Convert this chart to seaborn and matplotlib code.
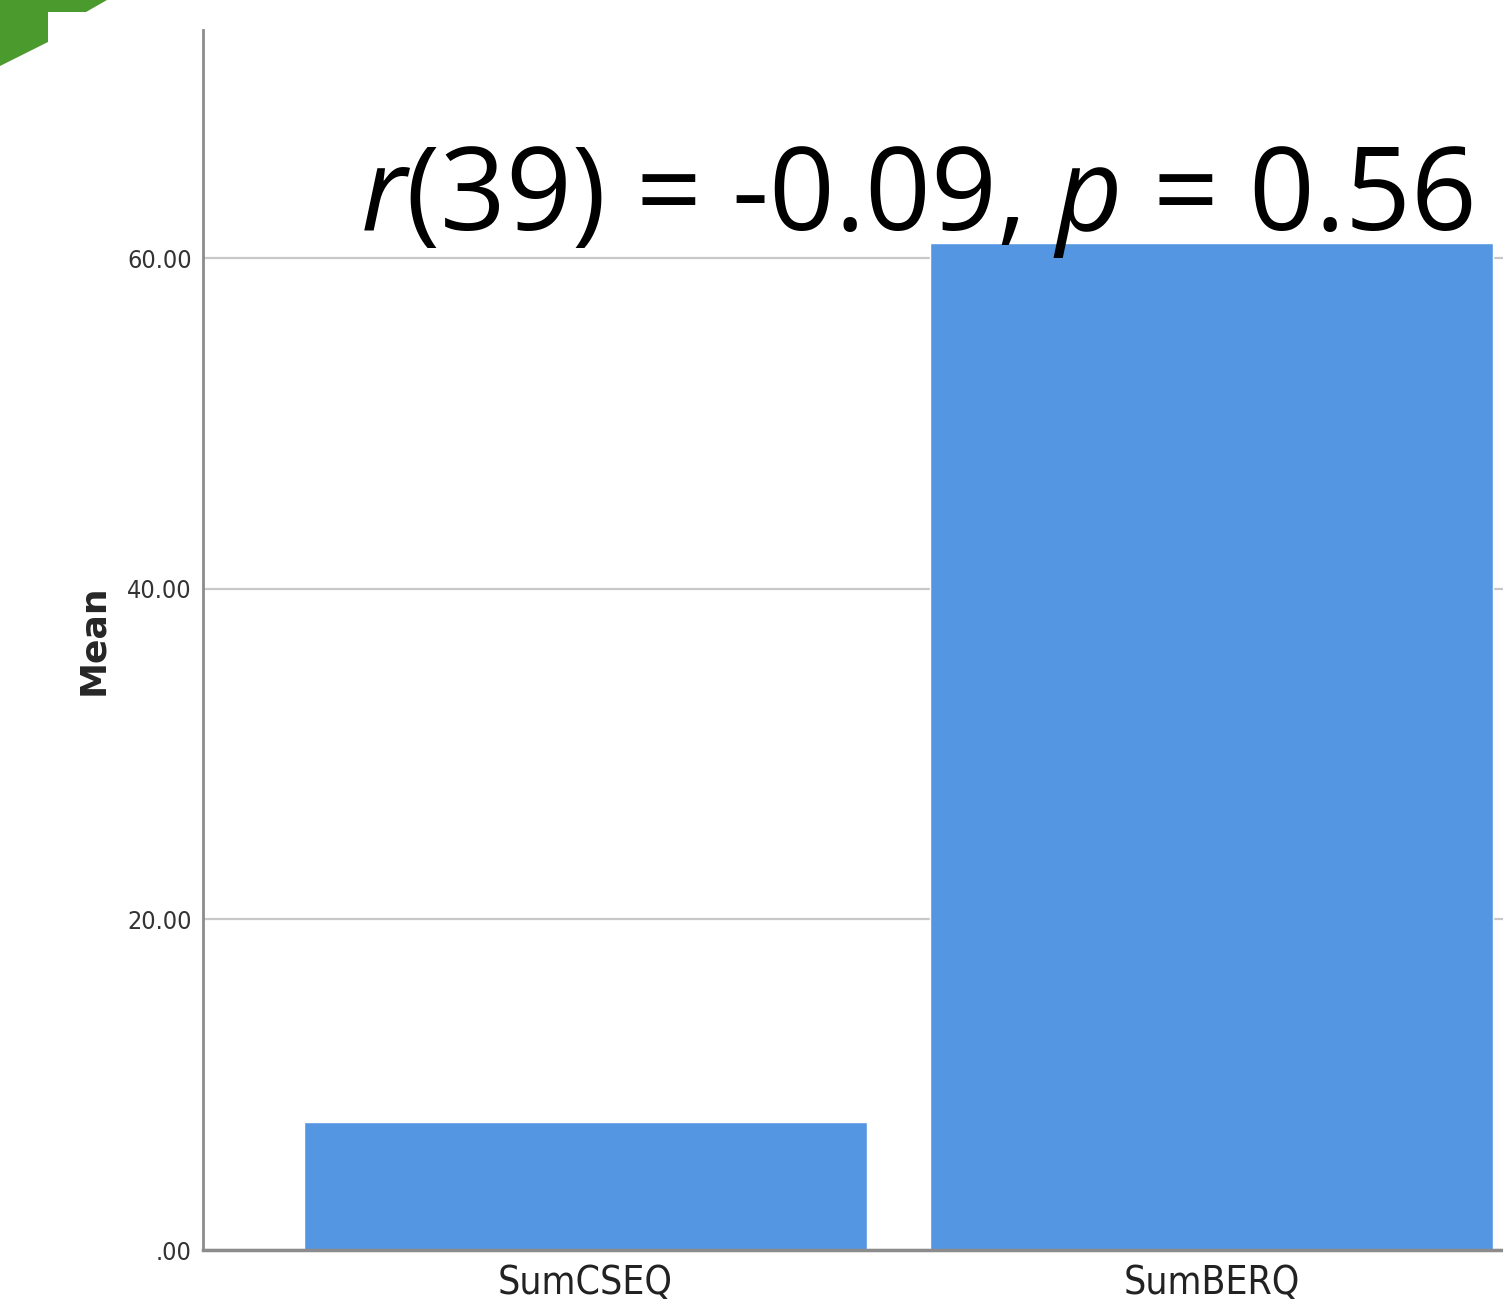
import matplotlib
matplotlib.use("Agg")
import matplotlib.pyplot as plt
import seaborn as sns
from matplotlib.patches import Polygon

categories = ["SumCSEQ", "SumBERQ"]
means = [7.75, 60.9]
yticks = [0, 20, 40, 60]
ytick_labels = [".00", "20.00", "40.00", "60.00"]
stat_text = r"$\it{r}$(39) = -0.09, $\it{p}$ = 0.56"

sns.set_theme(style="white")
plt.rcParams["font.family"] = ["DejaVu Sans"]
plt.rcParams["mathtext.fontset"] = "custom"
plt.rcParams["mathtext.it"] = "Open Sans:italic"
plt.rcParams["mathtext.rm"] = "Open Sans"

W, H = 1503, 1306
fig = plt.figure(figsize=(W / 100, H / 100), dpi=100)
ax = fig.add_axes([203 / W, 1 - 1250 / H, 1 - 203 / W, (1250 - 30) / H])

sns.barplot(x=categories, y=means, color="#5596e3", saturation=1, width=0.9, ax=ax, zorder=2)

ax.set_xlim(-0.611, 1.466)
ax.set_ylim(0, 73.8)
ax.set_yticks(yticks)
ax.set_yticklabels(ytick_labels, fontsize=18, color="#333333", fontstretch="condensed")
ax.set_xticks(range(len(categories)))
ax.set_xticklabels(categories, fontsize=28, color="#222222", fontstretch="condensed")
ax.tick_params(axis="x", pad=10, length=0)
ax.tick_params(axis="y", length=0, pad=8)
ax.yaxis.grid(True, color="#c8c8c8", linewidth=1.6, zorder=0)
ax.set_axisbelow(True)
for s in ["top", "right"]:
    ax.spines[s].set_visible(False)
ax.spines["left"].set_color("#8c8c8c")
ax.spines["left"].set_linewidth(2)
ax.spines["bottom"].set_color("#8c8c8c")
ax.spines["bottom"].set_linewidth(2.5)
ax.set_xlabel("")
ax.set_ylabel("Mean", fontsize=26, fontweight="bold", labelpad=12)

fig.text(1473 / W, 1 - 230 / H, stat_text, ha="right", va="baseline",
         fontsize=83, family="Open Sans", color="black")

# green decoration in the corner
pts = [(0, 0), (107, 0), (86, 12), (48, 12), (48, 42), (0, 66)]
fig.patches.append(Polygon([(x / W, 1 - y / H) for x, y in pts], closed=True,
                           transform=fig.transFigure, facecolor="#4a9a2e", edgecolor="none"))

fig.savefig("out.png", dpi=100)
